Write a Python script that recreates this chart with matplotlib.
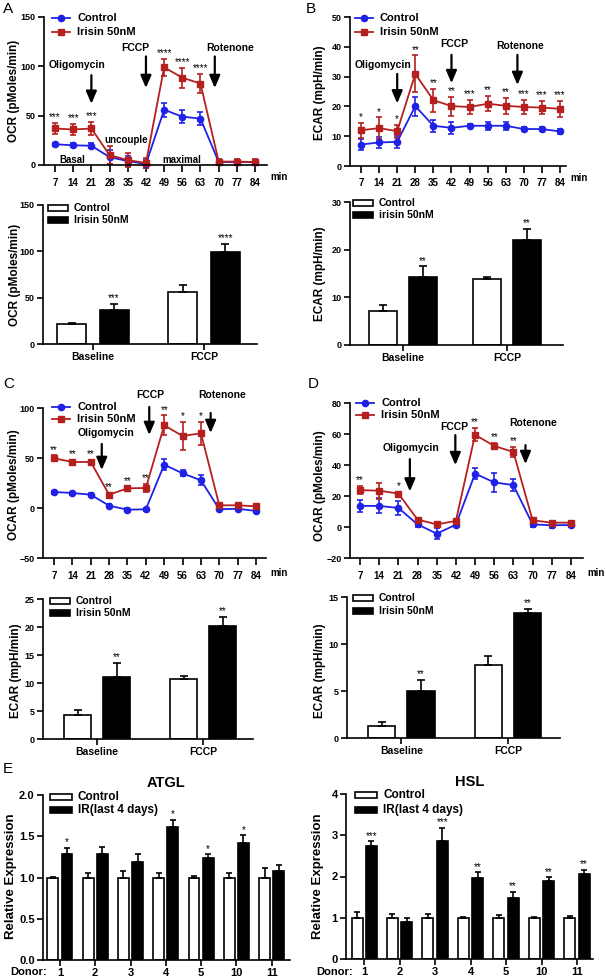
import numpy as np
import matplotlib
matplotlib.use("Agg")
import matplotlib.pyplot as plt
from matplotlib.lines import Line2D
from matplotlib.patches import Rectangle

plt.rcParams["font.family"] = ["Liberation Sans", "DejaVu Sans"]
plt.rcParams["font.weight"] = "bold"
plt.rcParams["axes.titleweight"] = "bold"

# ---------------- data ----------------
times = [7, 14, 21, 28, 35, 42, 49, 56, 63, 70, 77, 84]

# A: OCR time course
a_ctrl = [21, 20, 19.5, 8, 4, 1, 56, 49, 47, 3, 3, 3]
a_ctrl_err = [1.5, 2, 2.5, 7, 5, 4, 7, 6.5, 6.5, 2, 2, 2]
a_iris = [37, 36, 37, 10, 5, 2, 99, 88.5, 82.5, 3.5, 3.5, 3]
a_iris_err = [6, 5.5, 6.5, 9, 7.5, 5, 8.5, 10, 9.5, 3, 3, 3]
a_stars = ["***", "***", "***", "", "", "", "****", "****", "****", "", "", ""]

# B: ECAR time course
b_ctrl = [7.2, 7.9, 8.1, 20.1, 13.5, 12.8, 13.5, 13.5, 13.5, 12.4, 12.4, 11.6]
b_ctrl_err = [1.8, 1.7, 1.9, 3.2, 2.1, 1.9, 0.5, 1.3, 1.3, 0.8, 0.8, 0.9]
b_iris = [12.0, 12.7, 11.7, 30.9, 22.1, 20.1, 19.8, 20.9, 20.2, 19.8, 19.6, 19.2]
b_iris_err = [2.5, 3.6, 2.2, 6.2, 3.9, 3.2, 2.3, 2.6, 2.7, 2.3, 2.3, 2.6]
b_stars = ["*", "*", "*", "**", "**", "**", "***", "**", "**", "***", "***", "***"]

# C: OCAR time course
c_ctrl = [16, 15, 13.3, 2.3, -1.7, -1.3, 43.3, 34.7, 27.7, -1.3, -0.7, -3]
c_ctrl_err = [1.5, 1.5, 1.5, 1.5, 1.5, 1.5, 5.3, 3, 5, 1, 1, 1]
c_iris = [49.7, 46, 46, 13.3, 19.7, 20, 82.7, 72, 74.7, 2.7, 2.7, 1.7]
c_iris_err = [3, 2, 2, 2, 2, 4.3, 10, 14, 11.3, 1.5, 1.5, 1.5]
c_stars = ["**", "**", "**", "**", "**", "**", "**", "*", "*", "", "", ""]

# D: OCAR time course
d_ctrl = [13.6, 13.6, 12.3, 1.7, -4.3, 1.5, 34.4, 28.8, 27, 1.7, 1.1, 1.3]
d_ctrl_err = [3.7, 4.8, 4.3, 1.5, 3.5, 1, 3.4, 6.2, 3.9, 1.5, 2, 1.5]
d_iris = [23.8, 23.4, 21.6, 4.8, 1.7, 3.9, 59.5, 52.3, 48.4, 4.3, 2.8, 2.8]
d_iris_err = [2.6, 5.2, 1, 1, 1, 1, 4.3, 2.2, 3.5, 1, 1, 1]
d_stars = ["**", "", "*", "", "", "", "**", "**", "**", "", "", ""]

# bar summaries (Baseline, FCCP)
groups = ["Baseline", "FCCP"]
ab_ctrl, ab_ctrl_err = [21.6, 56], [1.5, 7.5]
ab_iris, ab_iris_err = [37, 99], [6, 9]
ab_stars = ["***", "****"]
bb_ctrl, bb_ctrl_err = [7.1, 13.8], [1.3, 0.5]
bb_iris, bb_iris_err = [14.3, 22.1], [2.2, 2.3]
bb_stars = ["**", "**"]
cb_ctrl, cb_ctrl_err = [4.3, 10.8], [0.9, 0.5]
cb_iris, cb_iris_err = [11.1, 20.1], [2.5, 1.7]
cb_stars = ["**", "**"]
db_ctrl, db_ctrl_err = [1.3, 7.8], [0.45, 0.9]
db_iris, db_iris_err = [5.0, 13.3], [1.15, 0.45]
db_stars = ["**", "**"]

# E: relative expression per donor
donors = ["1", "2", "3", "4", "5", "10", "11"]
atgl_ctrl = [1.0, 1.0, 1.0, 1.0, 1.0, 1.0, 1.0]
atgl_ctrl_err = [0.01, 0.05, 0.08, 0.06, 0.02, 0.05, 0.11]
atgl_ir = [1.285, 1.285, 1.19, 1.615, 1.24, 1.42, 1.08]
atgl_ir_err = [0.07, 0.08, 0.1, 0.085, 0.04, 0.09, 0.07]
atgl_stars = ["*", "", "", "*", "*", "*", ""]
hsl_ctrl = [1.0, 1.0, 1.0, 1.0, 1.0, 1.0, 1.0]
hsl_ctrl_err = [0.13, 0.09, 0.09, 0.03, 0.07, 0.01, 0.04]
hsl_ir = [2.75, 0.89, 2.87, 1.96, 1.49, 1.9, 2.06]
hsl_ir_err = [0.1, 0.1, 0.3, 0.14, 0.13, 0.08, 0.1]
hsl_stars = ["***", "", "***", "**", "**", "**", "**"]

BLUE = "#1f22e6"
RED = "#b5201f"
W, H = 606, 980

fig = plt.figure(figsize=(W / 100, H / 100), dpi=100)


def add_ax(l, t, r, b):
    ax = fig.add_axes([l / W, 1 - b / H, (r - l) / W, (b - t) / H])
    for s in ["top", "right"]:
        ax.spines[s].set_visible(False)
    for s in ["left", "bottom"]:
        ax.spines[s].set_linewidth(1.2)
    ax.tick_params(direction="out", length=4, width=1.2, labelsize=6.5, pad=2)
    return ax


def ftext(x, y, s, **kw):
    fig.text(x / W, 1 - y / H, s, **kw)


def line_legend(x, y0, dy, fs=8):
    entries = [("Control", BLUE, "o"), ("Irisin 50nM", RED, "s")]
    for i, (lab, col, mk) in enumerate(entries):
        y = 1 - (y0 + i * dy) / H
        fig.add_artist(Line2D([x / W, (x + 9) / W, (x + 18) / W], [y] * 3, color=col,
                              lw=1.3, marker=mk, ms=4.5, markevery=[1]))
        fig.text((x + 25) / W, y, lab, va="center", fontsize=fs)


def bar_legend(x, y0, dy, labels, fs=8, w=20, h=6):
    for i, (lab, fc) in enumerate(zip(labels, ["white", "black"])):
        yc = y0 + i * dy
        fig.add_artist(Rectangle((x / W, 1 - (yc + h / 2) / H), w / W, h / H,
                                 facecolor=fc, edgecolor="black", lw=1.2))
        fig.text((x + w + 6) / W, 1 - yc / H, lab, va="center", fontsize=fs)


def line_panel(ax, ctrl, ctrl_err, iris, iris_err, stars, xlim, ylim, yticks):
    ax.errorbar(times, ctrl, yerr=ctrl_err, color=BLUE, marker="o", ms=4.5, lw=1.3,
                capsize=2.5, elinewidth=1.2, capthick=1.2, clip_on=False)
    ax.errorbar(times, iris, yerr=iris_err, color=RED, marker="s", ms=4.5, lw=1.3,
                capsize=2.5, elinewidth=1.2, capthick=1.2, clip_on=False)
    for t, m, e, s in zip(times, iris, iris_err, stars):
        if s:
            ax.annotate(s, (t, m + e), xytext=(0, 0.5), textcoords="offset points",
                        ha="center", va="bottom", fontsize=7, fontweight="normal")
    ax.set_xlim(*xlim)
    ax.set_ylim(*ylim)
    ax.set_yticks(yticks)
    ax.set_xticks(times)
    ax.tick_params(axis="x", length=5, pad=4, labelsize=7)


def arrow(ax, x, top, tip):
    ax.annotate("", xy=(x, tip), xytext=(x, top),
                arrowprops=dict(arrowstyle="-|>,head_length=0.75,head_width=0.32",
                                color="black", lw=1.6, mutation_scale=10,
                                shrinkA=0, shrinkB=0))


def label(ax, x, y, s, fs=7.5):
    ax.text(x, y, s, ha="center", va="center", fontsize=fs)


def bar_panel(ax, xs, ctrl, ctrl_err, iris, iris_err, stars, width, off, cap=3):
    x = np.arange(len(xs))
    ekw = dict(elinewidth=1.2, capthick=1.2, ecolor="black")
    ax.bar(x - off, ctrl, width, color="white", edgecolor="black", lw=1.2,
           yerr=[np.zeros(len(x)), ctrl_err], capsize=cap, error_kw=ekw)
    ax.bar(x + off, iris, width, color="black", edgecolor="black", lw=1.2,
           yerr=[np.zeros(len(x)), iris_err], capsize=cap, error_kw=ekw)
    for xi, m, e, s in zip(x + off, iris, iris_err, stars):
        if s:
            ax.annotate(s, (xi, m + e), xytext=(0, 0.5), textcoords="offset points",
                        ha="center", va="bottom", fontsize=7, fontweight="normal")
    ax.set_xticks(x, xs)
    ax.tick_params(axis="x", labelsize=7.5)


# ---------------- A (line) ----------------
ax = add_ax(44, 17, 267, 165)
line_panel(ax, a_ctrl, a_ctrl_err, a_iris, a_iris_err, a_stars,
           (2.76, 88.6), (0, 150), [0, 50, 100, 150])
label(ax, 15.3, 101, "Oligomycin")
label(ax, 38, 118.6, "FCCP")
label(ax, 74.4, 118.6, "Rotenone")
arrow(ax, 21, 91, 62)
arrow(ax, 42, 110, 78)
arrow(ax, 68.5, 110, 78)
label(ax, 34.3, 25, "uncouple", 7)
label(ax, 13.7, 5, "Basal", 7)
label(ax, 56, 5, "maximal", 7)
line_legend(52, 18, 14)
ftext(14, 91, "OCR (pMoles/min)", rotation=90, ha="center", va="center", fontsize=8.5)
ftext(270, 177, "min", va="center", fontsize=7)
ftext(3, 2, "A", va="top", fontsize=11, fontweight="normal")

# ---------------- B (line) ----------------
ax = add_ax(350, 17, 566, 166)
line_panel(ax, b_ctrl, b_ctrl_err, b_iris, b_iris_err, b_stars,
           (2.74, 86.3), (0, 50), [0, 10, 20, 30, 40, 50])
label(ax, 15.4, 33.9, "Oligomycin")
label(ax, 43.1, 40.9, "FCCP")
label(ax, 68.7, 40.4, "Rotenone")
arrow(ax, 21, 30.9, 21)
arrow(ax, 42, 37.3, 27.8)
arrow(ax, 67.5, 37.3, 27.2)
line_legend(355, 18, 14)
ftext(320, 93, "ECAR (mpH/min)", rotation=90, ha="center", va="center", fontsize=8.5)
ftext(570, 178, "min", va="center", fontsize=7)
ftext(306, 2, "B", va="top", fontsize=11, fontweight="normal")

# ---------------- A (bars) ----------------
ax = add_ax(43, 205, 257, 344)
bar_panel(ax, groups, ab_ctrl, ab_ctrl_err, ab_iris, ab_iris_err, ab_stars, 0.26, 0.19)
ax.set_xlim(-0.45, 1.477)
ax.set_ylim(0, 150)
ax.set_yticks([0, 50, 100, 150])
bar_legend(48, 208, 12, ["Control", "Irisin 50nM"], 7.5)
ftext(15, 275, "OCR (pMoles/min)", rotation=90, ha="center", va="center", fontsize=8.5)

# ---------------- B (bars) ----------------
ax = add_ax(350, 202, 563, 345)
bar_panel(ax, groups, bb_ctrl, bb_ctrl_err, bb_iris, bb_iris_err, bb_stars, 0.27, 0.19)
ax.set_xlim(-0.51, 1.54)
ax.set_ylim(0, 30)
ax.set_yticks([0, 10, 20, 30])
bar_legend(353, 203, 12, ["Control", "irisin 50nM"], 7.5)
ftext(320, 274, "ECAR (mpH/min)", rotation=90, ha="center", va="center", fontsize=8.5)

# ---------------- C (line) ----------------
ax = add_ax(43, 408, 266, 558)
line_panel(ax, c_ctrl, c_ctrl_err, c_iris, c_iris_err, c_stars,
           (2.8, 87.8), (-50, 100), [-50, 0, 50, 100])
label(ax, 26.8, 75, "Oligomycin")
label(ax, 43.6, 113, "FCCP")
label(ax, 71, 113, "Rotenone")
arrow(ax, 25.2, 64, 38)
arrow(ax, 43.3, 101, 73)
arrow(ax, 66.7, 95, 75)
line_legend(52, 407, 11.5, 8)
ftext(14, 485, "OCAR (pMoles/min)", rotation=90, ha="center", va="center", fontsize=8.5)
ftext(270, 573, "min", va="center", fontsize=7)
ftext(3, 377, "C", va="top", fontsize=11, fontweight="normal")

# ---------------- D (line) ----------------
ax = add_ax(350, 403, 583, 558)
line_panel(ax, d_ctrl, d_ctrl_err, d_iris, d_iris_err, d_stars,
           (3.35, 88.4), (-20, 80), [-20, 0, 20, 40, 60, 80])
label(ax, 25.5, 50.9, "Oligomycin")
label(ax, 41.5, 64.7, "FCCP")
label(ax, 70.3, 67.3, "Rotenone")
arrow(ax, 25.2, 43.8, 22.9)
arrow(ax, 41.8, 59.3, 39.9)
arrow(ax, 67.4, 52.8, 40.6)
line_legend(356, 403, 11.5, 8)
ftext(320, 486, "OCAR (pMoles/min)", rotation=90, ha="center", va="center", fontsize=8.5)
ftext(587, 573, "min", va="center", fontsize=7)
ftext(308, 377, "D", va="top", fontsize=11, fontweight="normal")

# ---------------- C (bars) ----------------
ax = add_ax(43, 599, 253, 739)
bar_panel(ax, groups, cb_ctrl, cb_ctrl_err, cb_iris, cb_iris_err, cb_stars, 0.255, 0.184)
ax.set_xlim(-0.51, 1.47)
ax.set_ylim(0, 25)
ax.set_yticks([0, 5, 10, 15, 20, 25])
bar_legend(50, 601, 12, ["Control", "Irisin 50nM"], 7.5)
ftext(16, 671, "ECAR (mpH/min)", rotation=90, ha="center", va="center", fontsize=8.5)

# ---------------- D (bars) ----------------
ax = add_ax(347, 597, 560, 738)
bar_panel(ax, groups, db_ctrl, db_ctrl_err, db_iris, db_iris_err, db_stars, 0.255, 0.185)
ax.set_xlim(-0.51, 1.49)
ax.set_ylim(0, 15)
ax.set_yticks([0, 5, 10, 15])
bar_legend(353, 598, 13, ["Control", "Irisin 50nM"], 7.5)
ftext(320, 671, "ECAR (mpH/min)", rotation=90, ha="center", va="center", fontsize=8.5)

# ---------------- E ----------------
ax = add_ax(43, 795, 290, 960)
bar_panel(ax, donors, atgl_ctrl, atgl_ctrl_err, atgl_ir, atgl_ir_err, atgl_stars, 0.31, 0.2, 2.5)
ax.set_xlim(-0.48, 6.52)
ax.set_ylim(0, 2.0)
ax.set_yticks([0, 0.5, 1.0, 1.5, 2.0], ["0.0", "0.5", "1.0", "1.5", "2.0"])
ax.tick_params(labelsize=8)
ax.set_title("ATGL", fontsize=10.5, pad=6, fontweight="bold")
bar_legend(50, 797, 13, ["Control", "IR(last 4 days)"], 8.5, w=22)
ftext(11, 876, "Relative Expression", rotation=90, ha="center", va="center", fontsize=9.5)
ftext(10, 972, "Donor:", va="center", fontsize=8)
ftext(3, 762, "E", va="top", fontsize=11, fontweight="normal")

ax = add_ax(346, 794, 593, 959)
bar_panel(ax, donors, hsl_ctrl, hsl_ctrl_err, hsl_ir, hsl_ir_err, hsl_stars, 0.31, 0.2, 2.5)
ax.set_xlim(-0.51, 6.45)
ax.set_ylim(0, 4)
ax.set_yticks([0, 1, 2, 3, 4])
ax.tick_params(labelsize=8)
ax.set_title("HSL", fontsize=10.5, pad=6, fontweight="bold")
bar_legend(355, 795, 15, ["Control", "IR(last 4 days)"], 8.5, w=22)
ftext(318, 876, "Relative Expression", rotation=90, ha="center", va="center", fontsize=9.5)
ftext(316, 972, "Donor:", va="center", fontsize=8)

fig.savefig("out.png", dpi=100)
